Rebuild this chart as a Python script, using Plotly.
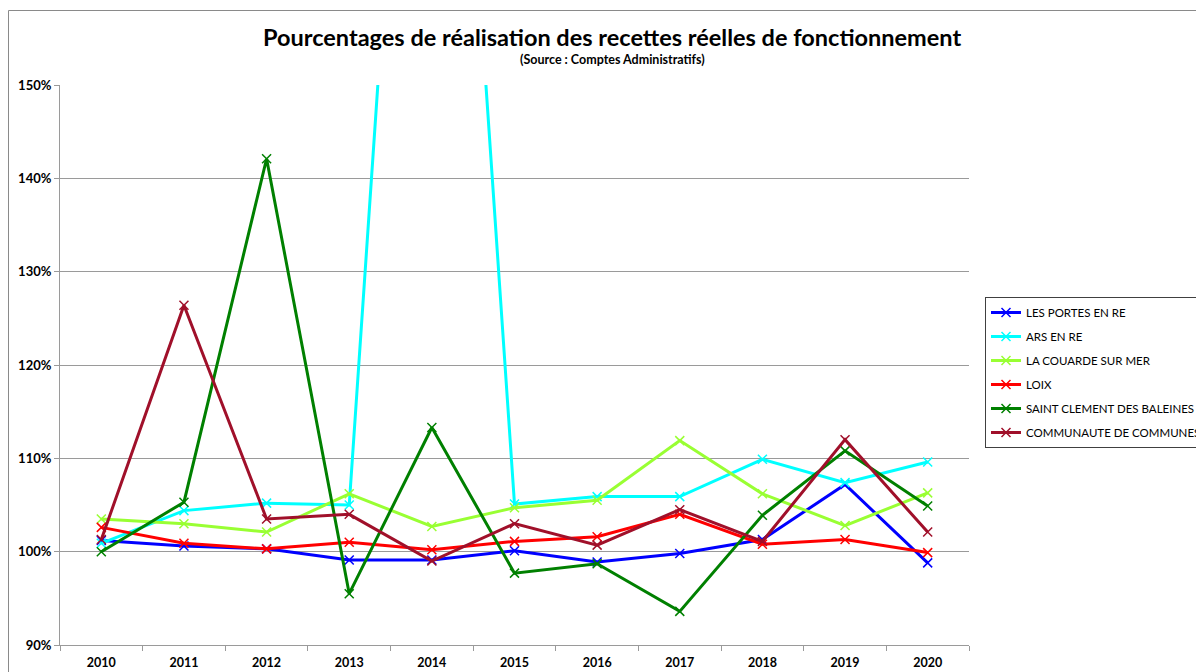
import plotly.graph_objects as go

years = ["2010", "2011", "2012", "2013", "2014", "2015", "2016", "2017", "2018", "2019", "2020"]

les_portes = [101.2, 100.6, 100.3, 99.1, 99.1, 100.1, 98.9, 99.8, 101.3, 107.2, 98.8]
ars = [100.9, 104.4, 105.2, 105.0, 235.0, 105.1, 105.9, 105.9, 109.9, 107.4, 109.6]
couarde = [103.5, 103.0, 102.1, 106.2, 102.7, 104.7, 105.5, 111.9, 106.2, 102.8, 106.3]
loix = [102.6, 100.9, 100.3, 101.0, 100.2, 101.1, 101.6, 104.0, 100.8, 101.3, 99.9]
saint_clement = [100.0, 105.3, 142.1, 95.5, 113.3, 97.7, 98.7, 93.6, 103.9, 110.8, 104.9]
communaute = [101.3, 126.4, 103.5, 104.0, 99.0, 103.0, 100.7, 104.5, 101.1, 112.0, 102.1]

series_names = ["LES PORTES EN RE", "ARS EN RE", "LA COUARDE SUR MER", "LOIX",
                "SAINT CLEMENT DES BALEINES", "COMMUNAUTE DE COMMUNES"]
series_values = [les_portes, ars, couarde, loix, saint_clement, communaute]
series_colors = ["#0000FF", "#00FFFF", "#99FF33", "#FF0000", "#008000", "#A0102A"]

y_ticks = [90, 100, 110, 120, 130, 140, 150]
y_tick_labels = ["90%", "100%", "110%", "120%", "130%", "140%", "150%"]

FONT = "Lato"
OFF = 8  # page body margin
W, H = 1204 - OFF, 672 - OFF
L, T = 60 - OFF, 85 - OFF
PW, PH = 909, 560

fig = go.Figure()
for i, (name, vals, col) in enumerate(zip(series_names, series_values, series_colors)):
    fig.add_trace(go.Scatter(
        x=years, y=vals, name=name, mode="lines+markers",
        line=dict(color=col, width=3),
        marker=dict(symbol="x-thin", size=9, color=col, line=dict(color=col, width=1.5)),
        legendgroup=f"g{i}",
    ))

fig.update_layout(
    width=W, height=H,
    margin=dict(l=L, r=W - L - PW, t=T, b=H - T - PH),
    paper_bgcolor="white", plot_bgcolor="white",
    font=dict(family=FONT, color="#000000"),
    showlegend=True,
    legend=dict(
        xref="container", yref="container",
        x=(985 - OFF) / W, y=1 - (297 - OFF) / H, xanchor="left", yanchor="top",
        bordercolor="#404040", borderwidth=1, bgcolor="white",
        font=dict(family=FONT, size=11.5, color="#000000"),
        traceorder="grouped", tracegroupgap=5,
        itemwidth=30,
    ),
    xaxis=dict(
        type="category", range=[-0.5, 10.5], automargin=False,
        showgrid=False, showline=True, linecolor="#9a9a9a", linewidth=1,
        ticks="outside", tickson="boundaries", ticklen=5, tickcolor="#9a9a9a",
        ticklabelstandoff=6,
        tickfont=dict(family=FONT, size=12.5, color="#000000", weight="bold"),
        fixedrange=True,
    ),
    yaxis=dict(
        range=[90, 150], tickvals=y_ticks, ticktext=y_tick_labels, automargin=False,
        showgrid=True, gridcolor="#9a9a9a", gridwidth=1,
        showline=True, linecolor="#9a9a9a", linewidth=1,
        ticks="outside", ticklen=5, tickcolor="#9a9a9a",
        tickfont=dict(family=FONT, size=13, color="#000000", weight="bold"),
        zeroline=False,
    ),
)

fig.add_annotation(
    text="<b>Pourcentages de réalisation des recettes réelles de fonctionnement</b>",
    xref="paper", yref="paper", x=(612 - 60) / PW, y=1 - (37 - 85) / PH,
    xanchor="center", yanchor="middle", showarrow=False,
    font=dict(family=FONT, size=23.5, color="#000000"),
)
fig.add_annotation(
    text="<b>(Source : Comptes Administratifs)</b>",
    xref="paper", yref="paper", x=(612 - 60) / PW, y=1 - (60 - 85) / PH,
    xanchor="center", yanchor="middle", showarrow=False,
    font=dict(family=FONT, size=12.5, color="#000000"),
)

# outer chart-area border (right/bottom lie outside the picture)
fig.add_shape(
    type="rect", xref="paper", yref="paper",
    x0=(8.5 - 60) / PW, x1=(1215 - 60) / PW,
    y0=1 - (690 - 85) / PH, y1=1 - (10.5 - 85) / PH,
    line=dict(color="#8a8a8a", width=1), fillcolor="rgba(0,0,0,0)", layer="below",
)

fig.write_html("out.html")
